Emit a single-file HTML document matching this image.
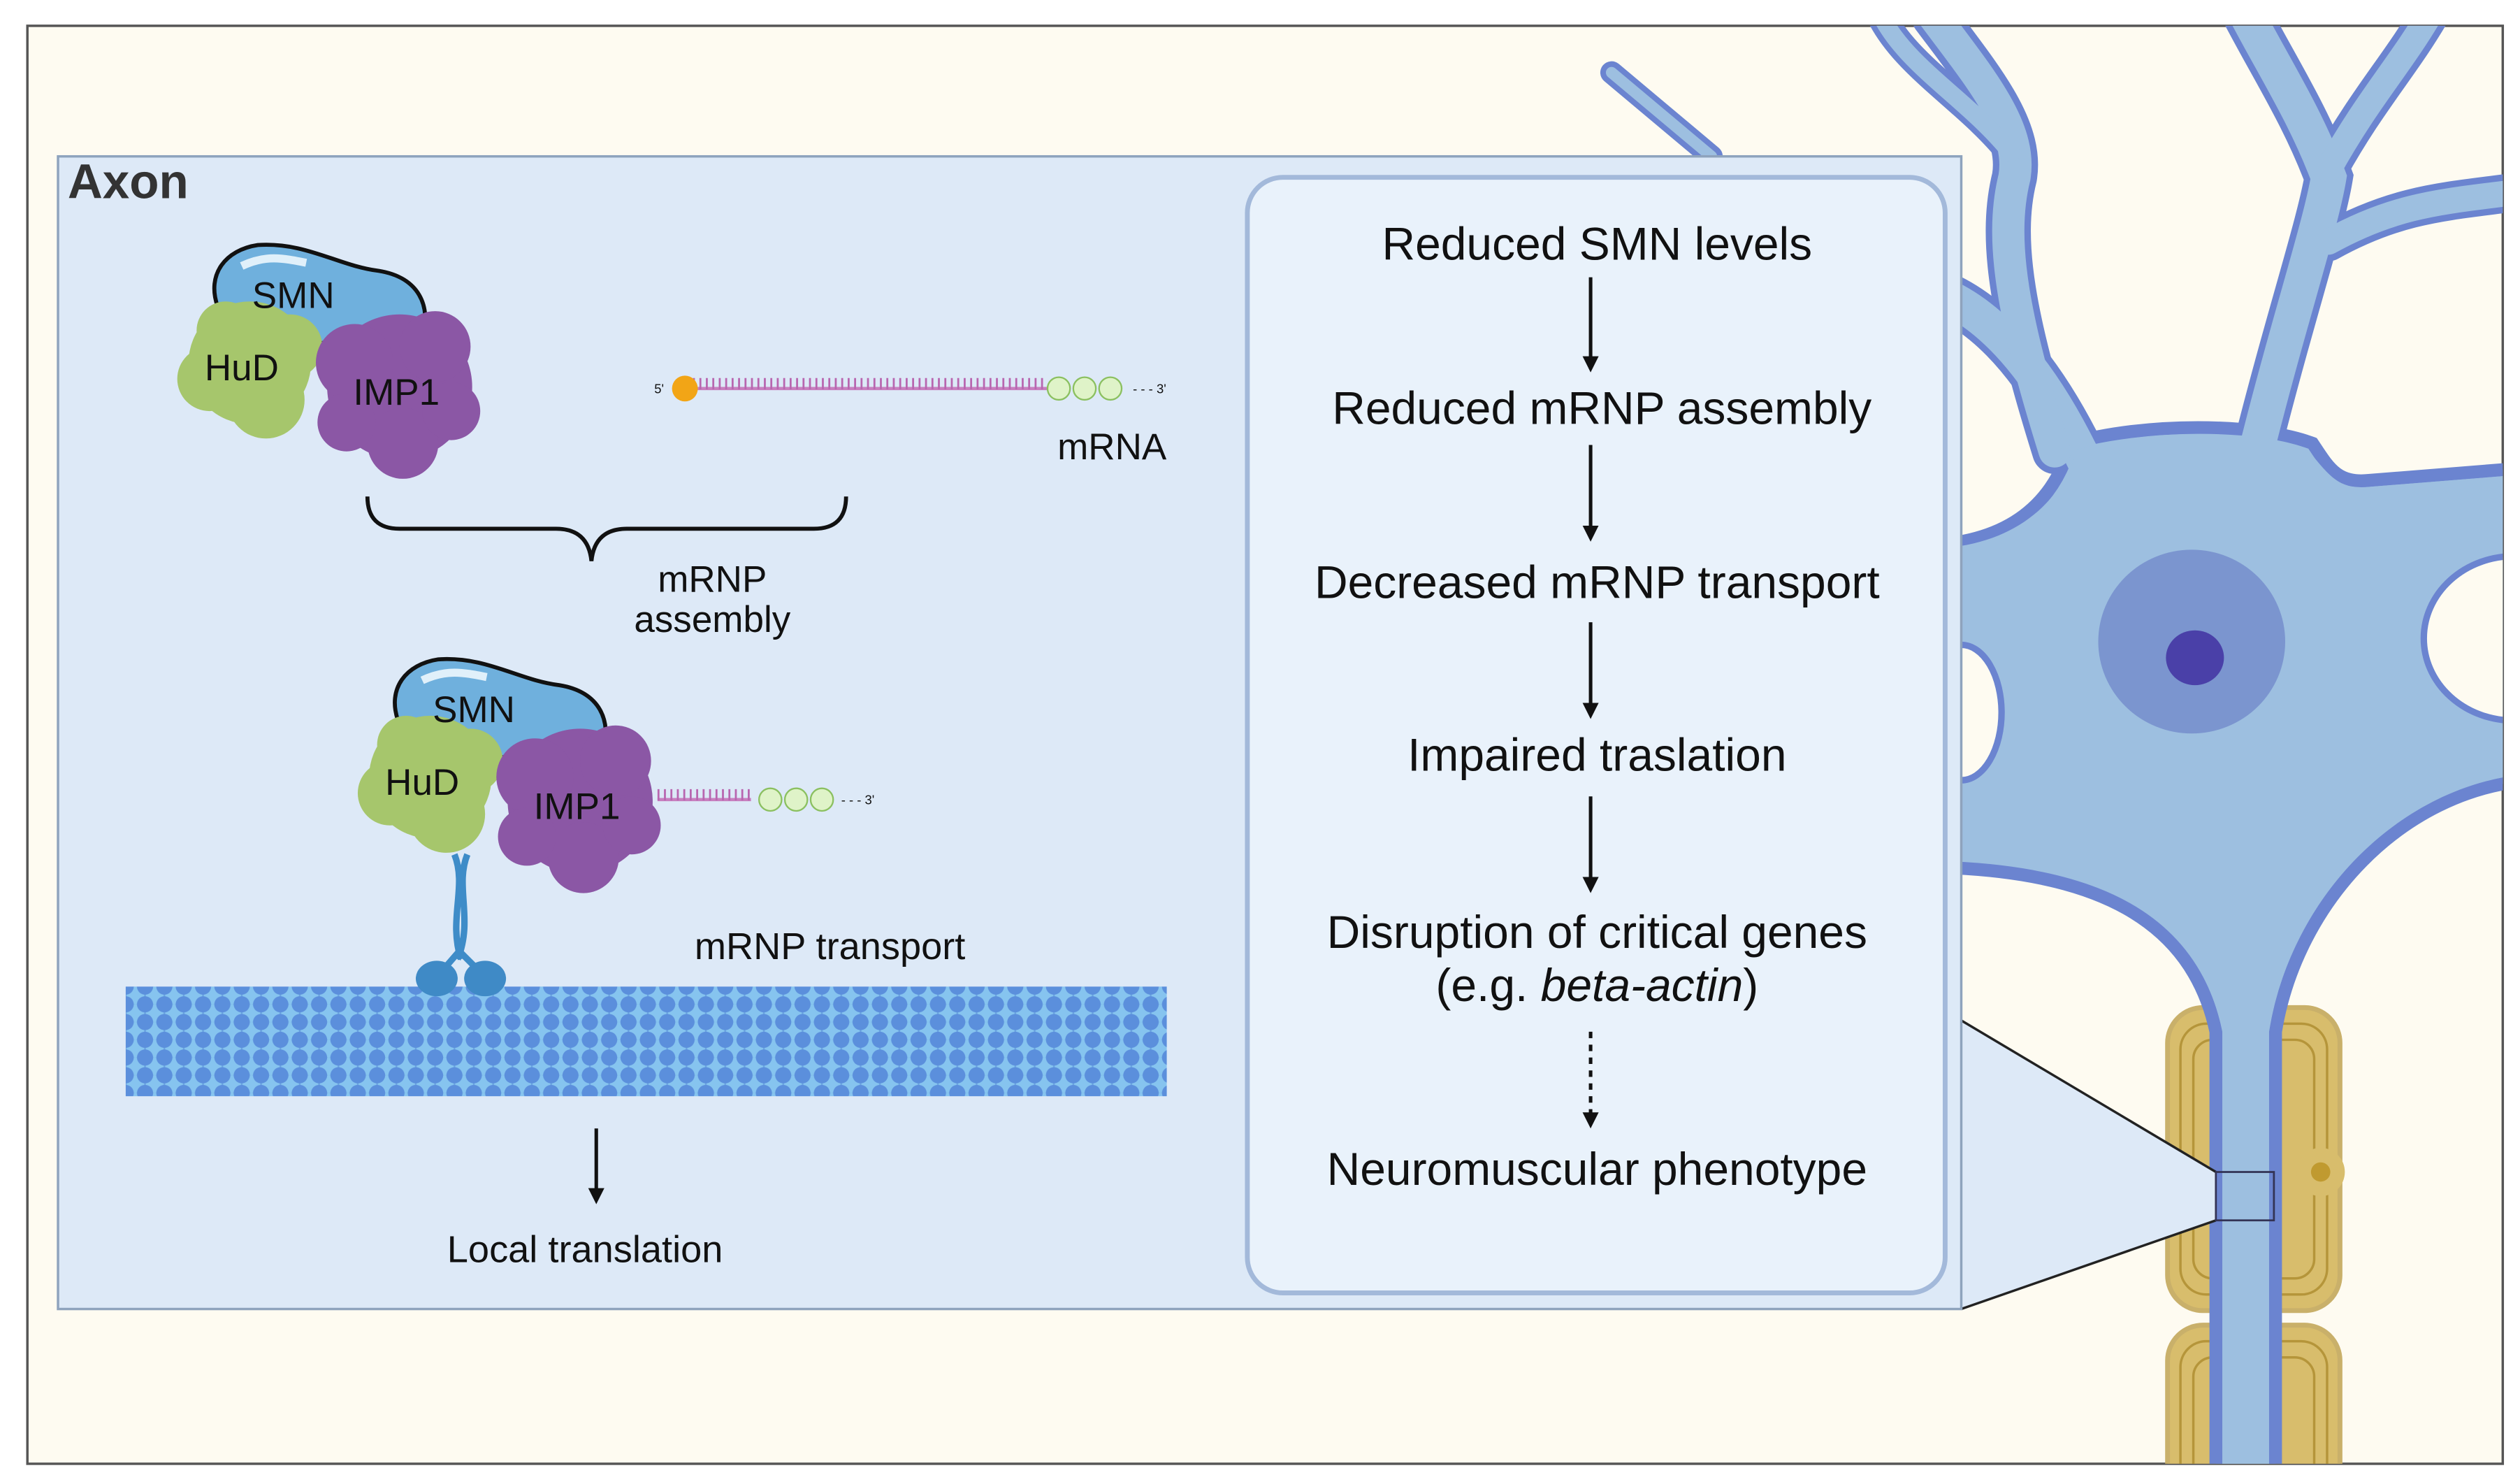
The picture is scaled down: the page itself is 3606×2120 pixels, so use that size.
<!DOCTYPE html>
<html><head><meta charset="utf-8"><style>
html,body{margin:0;padding:0;background:#fff}
svg{display:block}
text{font-family:"Liberation Sans",sans-serif;fill:#111}
</style></head><body>
<svg width="3606" height="2120" viewBox="0 0 1563.7 919.3" xmlns="http://www.w3.org/2000/svg">
<defs>
<clipPath id="fr"><rect x="17" y="16" width="1536" height="892"/></clipPath>
<pattern id="mt" x="78" y="612" width="12" height="11" patternUnits="userSpaceOnUse">
<rect width="12" height="11" fill="#6aa3e0"/>
<circle cx="6" cy="5.5" r="5.5" fill="#86c4ef"/>
<circle cx="0" cy="0" r="5" fill="#5b8fdc"/><circle cx="12" cy="0" r="5" fill="#5b8fdc"/>
<circle cx="0" cy="11" r="5" fill="#5b8fdc"/><circle cx="12" cy="11" r="5" fill="#5b8fdc"/>
</pattern>
<marker id="ah" markerWidth="10" markerHeight="10" refX="5" refY="5" orient="auto" markerUnits="userSpaceOnUse"><path d="M0,0 L10,5 L0,10 Z" fill="#111"/></marker>
</defs>
<rect x="17" y="16" width="1536" height="892" fill="#fefbf1" stroke="#555" stroke-width="1.5"/>
<g clip-path="url(#fr)">
 <rect x="1345" y="625" width="107" height="188" rx="22" fill="#d8bd6c" stroke="#c9b06a" stroke-width="3"/>
 <rect x="1345" y="822" width="107" height="110" rx="22" fill="#d8bd6c" stroke="#c9b06a" stroke-width="3"/>
 <g stroke="#b5953a" stroke-width="1.5" fill="none">
  <rect x="1353" y="635" width="91" height="168" rx="16"/><rect x="1361" y="645" width="75" height="148" rx="12"/>
  <rect x="1353" y="832" width="91" height="100" rx="16"/><rect x="1361" y="842" width="75" height="90" rx="12"/>
 </g>
 <circle cx="1440" cy="727" r="15" fill="#d8bd6c"/><circle cx="1440" cy="727" r="6" fill="#c09a30"/>
 <g fill="none" stroke="#6b84d0" stroke-linecap="round">
  <path d="M1062,97 L1000,45" stroke-width="14"/>
  <path d="M1300,300 Q1260,210 1210,185" stroke-width="30"/>
  <path d="M1275,280 C1250,200 1240,150 1250,110 C1255,80 1230,50 1200,10" stroke-width="28"/>
  <path d="M1248,95 C1220,60 1180,40 1165,5" stroke-width="18"/>
  <path d="M1400,280 C1420,200 1440,140 1445,110 C1430,70 1410,40 1392,5" stroke-width="30"/>
  <path d="M1445,105 C1470,60 1490,40 1510,5" stroke-width="24"/>
  <path d="M1445,150 C1490,125 1520,125 1570,118" stroke-width="24"/>
 </g>
 <path d="M1200,338 C1250,335 1275,310 1285,275 C1330,262 1400,262 1435,275 C1445,290 1450,300 1470,298 L1570,290 L1570,484 C1490,490 1425,560 1412,640 L1412,930 L1375,930 L1375,640 C1360,570 1300,540 1200,538 Z" fill="#9dbfe0" stroke="#6b84d0" stroke-width="8"/>
 <g fill="none" stroke="#9dbfe0" stroke-linecap="round">
  <path d="M1062,97 L1000,45" stroke-width="7"/>
  <path d="M1300,300 Q1260,210 1210,185" stroke-width="22"/>
  <path d="M1275,280 C1250,200 1240,150 1250,110 C1255,80 1230,50 1200,10" stroke-width="20"/>
  <path d="M1248,95 C1220,60 1180,40 1165,5" stroke-width="11"/>
  <path d="M1400,280 C1420,200 1440,140 1445,110 C1430,70 1410,40 1392,5" stroke-width="22"/>
  <path d="M1445,105 C1470,60 1490,40 1510,5" stroke-width="16"/>
  <path d="M1445,150 C1490,125 1520,125 1570,118" stroke-width="16"/>
 </g>
 <path d="M1205,340 C1250,337 1279,312 1289,279 C1330,266 1400,266 1431,278 C1445,294 1450,304 1470,302 L1570,294 L1570,480 C1490,486 1421,556 1408,640 L1408,930 L1379,930 L1379,640 C1364,566 1300,536 1205,534 Z" fill="#9dbfe0"/>
 <ellipse cx="1217" cy="442" rx="25" ry="42" fill="#fefbf1" stroke="#6b84d0" stroke-width="4"/>
 <ellipse cx="1560" cy="396" rx="56" ry="51" fill="#fefbf1" stroke="#6b84d0" stroke-width="4"/>
 <ellipse cx="1360" cy="398" rx="58" ry="57" fill="#7b95cf"/>
 <ellipse cx="1362" cy="408" rx="18" ry="17" fill="#4a40a8"/>
</g>
<path d="M1217,633 L1375,727 L1375,757 L1217,812 Z" fill="#dde9f7"/>
<path d="M1217,633 L1375,727 M1217,812 L1375,757" stroke="#222" stroke-width="1.5"/>
<rect x="1375" y="727" width="36" height="30" fill="none" stroke="#335" stroke-width="1.2"/>
<rect x="36" y="97" width="1181" height="715" fill="#dde9f7" stroke="#8ea3bd" stroke-width="1.5"/>
<text x="42" y="123" font-size="30" font-weight="bold" style="fill:#333">Axon</text>
<rect x="774" y="110" width="433" height="692" rx="22" fill="#e9f2fb" stroke="#a3b9da" stroke-width="3"/>
<g font-size="28.6" text-anchor="middle">
 <text x="991" y="161">Reduced SMN levels</text>
 <text x="994" y="263">Reduced mRNP assembly</text>
 <text x="991" y="371">Decreased mRNP transport</text>
 <text x="991" y="478">Impaired traslation</text>
 <text x="991" y="588">Disruption of critical genes</text>
 <text x="991" y="621">(e.g. <tspan font-style="italic">beta-actin</tspan>)</text>
 <text x="991" y="735">Neuromuscular phenotype</text>
</g>
<g stroke="#111" stroke-width="2.2" marker-end="url(#ah)">
 <line x1="987" y1="172" x2="987" y2="226"/>
 <line x1="987" y1="276" x2="987" y2="331"/>
 <line x1="987" y1="386" x2="987" y2="441"/>
 <line x1="987" y1="494" x2="987" y2="549"/>
 <line x1="987" y1="640" x2="987" y2="695" stroke-dasharray="4,4"/>
</g>
<g id="cx">
 <path d="M135,190 C128,170 140,155 160,152 C190,150 210,165 235,168 C260,172 268,190 262,210 L150,215 Z" fill="#6fb0dd" stroke="#111" stroke-width="2.5"/>
 <path d="M150,165 C165,158 175,160 190,163" stroke="#e0f0fa" stroke-width="5" fill="none"/>
 <g fill="#a6c66c">
  <circle cx="155" cy="225" r="38"/><circle cx="130" cy="235" r="20"/><circle cx="165" cy="248" r="24"/><circle cx="140" cy="205" r="18"/><circle cx="180" cy="215" r="20"/>
 </g>
 <g fill="#8b57a5">
  <circle cx="248" cy="240" r="45"/><circle cx="220" cy="225" r="24"/><circle cx="270" cy="215" r="22"/><circle cx="250" cy="275" r="22"/><circle cx="280" cy="255" r="18"/><circle cx="215" cy="262" r="18"/>
 </g>
 <text x="182" y="191" font-size="23" text-anchor="middle">SMN</text>
 <text x="150" y="236" font-size="23" text-anchor="middle">HuD</text>
 <text x="246" y="251" font-size="23" text-anchor="middle">IMP1</text>
</g>
<use href="#cx" transform="translate(112,257)"/>
<line x1="426" y1="241" x2="650" y2="241" stroke="#c77fbf" stroke-width="2"/>
<line x1="426" y1="238" x2="650" y2="238" stroke="#b866b0" stroke-width="7" stroke-dasharray="1.2,2.8"/>
<circle cx="425" cy="241" r="8" fill="#f2a516"/>
<text x="406" y="244" font-size="8">5'</text>
<g fill="#dff3c8" stroke="#8bc060" stroke-width="1"><circle cx="657" cy="241" r="7"/><circle cx="673" cy="241" r="7"/><circle cx="689" cy="241" r="7"/></g>
<text x="703" y="244" font-size="8">- - - 3'</text>
<text x="690" y="285" font-size="23" text-anchor="middle">mRNA</text>
<path d="M228,308 Q228,328 248,328 L345,328 Q365,328 367,348 Q369,328 389,328 L505,328 Q525,328 525,308" fill="none" stroke="#111" stroke-width="2.5"/>
<text x="442" y="367" font-size="23" text-anchor="middle">mRNP</text>
<text x="442" y="392" font-size="23" text-anchor="middle">assembly</text>
<line x1="408" y1="496" x2="466" y2="496" stroke="#c77fbf" stroke-width="2"/>
<line x1="408" y1="493" x2="466" y2="493" stroke="#b866b0" stroke-width="7" stroke-dasharray="1.2,2.8"/>
<g fill="#dff3c8" stroke="#8bc060" stroke-width="1"><circle cx="478" cy="496" r="7"/><circle cx="494" cy="496" r="7"/><circle cx="510" cy="496" r="7"/></g>
<text x="522" y="499" font-size="8">- - - 3'</text>
<path d="M282,530 C290,550 278,570 286,595 M290,530 C282,550 294,570 284,595" stroke="#3e8cc8" stroke-width="4" fill="none"/>
<path d="M285,590 L272,605 M285,590 L300,605" stroke="#3e8cc8" stroke-width="4"/>
<rect x="78" y="612" width="646" height="68" fill="url(#mt)"/>
<ellipse cx="271" cy="607" rx="13" ry="11" fill="#3f8ac6"/>
<ellipse cx="301" cy="607" rx="13" ry="11" fill="#3f8ac6"/>
<text x="515" y="595" font-size="23.5" text-anchor="middle">mRNP transport</text>
<line x1="370" y1="700" x2="370" y2="742" stroke="#111" stroke-width="2.2" marker-end="url(#ah)"/>
<text x="363" y="783" font-size="23.5" text-anchor="middle">Local translation</text>
</svg>
</body></html>
